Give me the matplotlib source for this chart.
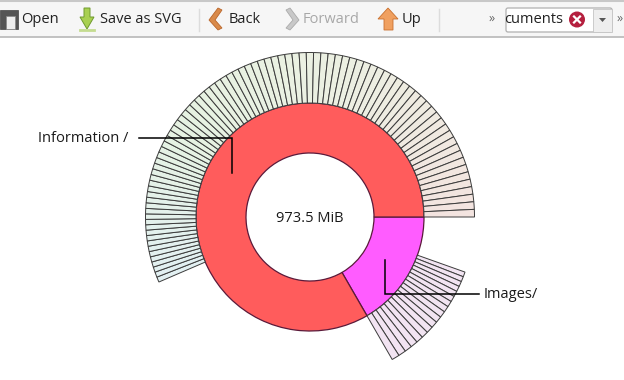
import numpy as np
import matplotlib
matplotlib.use("Agg")
import matplotlib.pyplot as plt
from matplotlib.colors import LinearSegmentedColormap
from matplotlib.patches import Polygon, Rectangle, Circle, FancyBboxPatch

# ---- data (MiB) ----
total_label = "973.5 MiB"
total_mib = 973.5
ring_names = ["Images/", "Information /"]
ring_sizes = [162.3, 811.2]
images_files = [4.7, 4.9, 5.0, 5.2, 5.4, 5.5, 5.7, 5.9, 6.1, 6.2, 6.4, 6.5, 6.6, 6.8, 6.9, 7.0, 7.2, 7.4]
info_files = [5.0, 5.0, 5.0, 5.0, 5.0, 5.1, 5.1, 5.1, 5.1, 5.1, 5.1, 5.1,
              5.2, 5.2, 5.3, 5.3, 5.4, 5.4, 5.5, 5.5, 5.6, 5.6, 5.6, 5.7, 5.7, 5.8, 5.8, 5.9, 5.9, 6.0, 6.0, 6.1, 6.1, 6.2,
              6.2, 6.2, 6.3, 6.3, 6.4, 6.4, 6.4, 6.5, 6.5, 6.5, 6.6, 6.6, 6.6, 6.7, 6.7, 6.8, 6.8, 6.8, 6.9,
              6.9, 6.9, 6.9, 6.9, 6.9, 6.9, 7.0, 7.0, 7.0, 7.0, 7.0, 7.0, 7.0, 7.0, 7.0, 7.0,
              7.1, 7.1, 7.1, 7.1, 7.1, 7.1, 7.1, 7.1, 7.1, 7.1, 7.2, 7.2, 7.2, 7.2, 7.2, 7.2, 7.2, 7.2]

W, H = 624, 380
CX, CY = 310, 217
R0, R1, R2 = 64, 114, 164.5
FONT = "Open Sans"
FS = 10.5
plt.rcParams["font.family"] = FONT

fig = plt.figure(figsize=(W / 100, H / 100), dpi=100, facecolor="white")

# ---- sunburst ----
RMAX = 170
ax = fig.add_axes([(CX - RMAX) / W, (H - CY - RMAX) / H, 2 * RMAX / W, 2 * RMAX / H], projection="polar")
ax.set_theta_zero_location("E")
ax.set_theta_direction(-1)
ax.set_rlim(0, RMAX)
ax.axis("off")
ax.patch.set_alpha(0)

def to_rad(mib):
    return np.asarray(mib, dtype=float) * 2 * np.pi / total_mib

def ring(sizes, start, r_in, r_out, colors, lw, edge):
    sizes = np.asarray(sizes, dtype=float)
    left = start + np.concatenate([[0], np.cumsum(sizes)[:-1]])
    bars = ax.bar(to_rad(left), r_out - r_in, width=to_rad(sizes), bottom=r_in, align="edge",
                  color=colors, edgecolor=edge, linewidth=lw)
    for b in bars:
        b.set_snap(False)

ring(ring_sizes, 0, R0, R1, ["#ff5cff", "#ff5c5c"], 0.9, "#5a1a3a")

info_cmap = LinearSegmentedColormap.from_list("i", ["#e2f0f2", "#e6f2e2", "#ecf0e2", "#f3e4e0"])
info_cols = info_cmap(np.linspace(0, 1, len(info_files)))
# the files are packed against the end of each parent; smaller ones are not drawn
ring(info_files, total_mib - sum(info_files), R1, R2, info_cols, 0.7, "#3c3c3c")
ring(images_files, ring_sizes[0] - sum(images_files), R1, R2, ["#f2e4f2"] * len(images_files), 0.7, "#3c3c3c")

# ---- overlay in pixel coordinates ----
ov = fig.add_axes([0, 0, 1, 1], zorder=5)
ov.set_xlim(0, W)
ov.set_ylim(H, 0)
ov.axis("off")
ov.patch.set_alpha(0)

ov.plot([139, 232, 232], [138, 138, 173], color="black", lw=1.1, solid_joinstyle="miter")
ov.plot([385, 385, 479], [260, 294, 294], color="black", lw=1.1, solid_joinstyle="miter")
ov.text(38, 138, ring_names[1], fontsize=FS, va="center", ha="left", color="#1a1a1a")
ov.text(484, 294, ring_names[0], fontsize=FS, va="center", ha="left", color="#1a1a1a")
ov.text(310, 218, total_label, fontsize=FS, va="center", ha="center", color="#1a1a1a")

# ---- toolbar ----
ov.add_patch(Rectangle((0, 0), W, 37, fc="#f6f6f6", ec="none"))
ov.plot([0, W], [37.2, 37.2], color="#b8b8b8", lw=1.2)
ov.plot([0, W], [0.5, 0.5], color="#c8c8c8", lw=1.5)
for x in (199, 439):
    ov.plot([x, x], [9, 31], color="#dcdcdc", lw=1)

def tb(x, s, color="#222222"):
    ov.text(x, 19.5, s, fontsize=FS, va="center", ha="left", color=color)

tb(21, "Open"); tb(100, "Save as SVG"); tb(229, "Back")
tb(303, "Forward", "#a8a8a8"); tb(402, "Up")

# folder icon
ov.add_patch(Rectangle((0, 10), 18, 19, fc="#555555", ec="#444444", lw=0.5))
ov.add_patch(Rectangle((6, 16), 9, 13, fc="#eeeeee", ec="#888888", lw=0.5))
# download arrow
ov.add_patch(Polygon([(84, 8), (90, 8), (90, 17), (94, 17), (87, 29), (80, 17), (84, 17)], fc="#a8d050", ec="#6f9a2e", lw=0.7))
ov.plot([80, 94], [30, 30], color="#c4dc90", lw=2)
# chevrons
ov.add_patch(Polygon([(218, 8), (222, 10), (215, 20), (222, 28), (218, 30), (209, 20)], fc="#d98a4a", ec="#b9652a", lw=0.6))
ov.add_patch(Polygon([(290, 8), (286, 10), (293, 20), (286, 28), (290, 30), (299, 20)], fc="#c8c8c8", ec="#aaaaaa", lw=0.6))
# up arrow
ov.add_patch(Polygon([(388, 8), (398, 19), (393, 19), (393, 30), (384, 30), (384, 19), (378, 19)], fc="#f0a060", ec="#c9702e", lw=0.6))

ov.text(492, 18.5, "\u00bb", fontsize=9, ha="center", va="center", color="#666666")
ov.text(620, 18.5, "\u00bb", fontsize=9, ha="center", va="center", color="#666666")

# entry box
ov.add_patch(FancyBboxPatch((506, 8), 106, 24, boxstyle="round,pad=0,rounding_size=2", fc="white", ec="#b0b0b0", lw=0.9))
ov.add_patch(Rectangle((593, 8.5), 18.5, 23, fc="#eeeeee", ec="#c4c4c4", lw=0.6))
ov.text(563, 19.5, "cuments", fontsize=FS, va="center", ha="right", color="#222222")
ov.add_patch(Circle((577, 19.5), 8, fc="#b5203f", ec="none"))
ov.plot([574, 580], [16.5, 22.5], color="white", lw=1.6)
ov.plot([574, 580], [22.5, 16.5], color="white", lw=1.6)
ov.add_patch(Polygon([(599, 18), (606, 18), (602.5, 22)], fc="#555555", ec="none"))

fig.savefig("out.png", dpi=100)
